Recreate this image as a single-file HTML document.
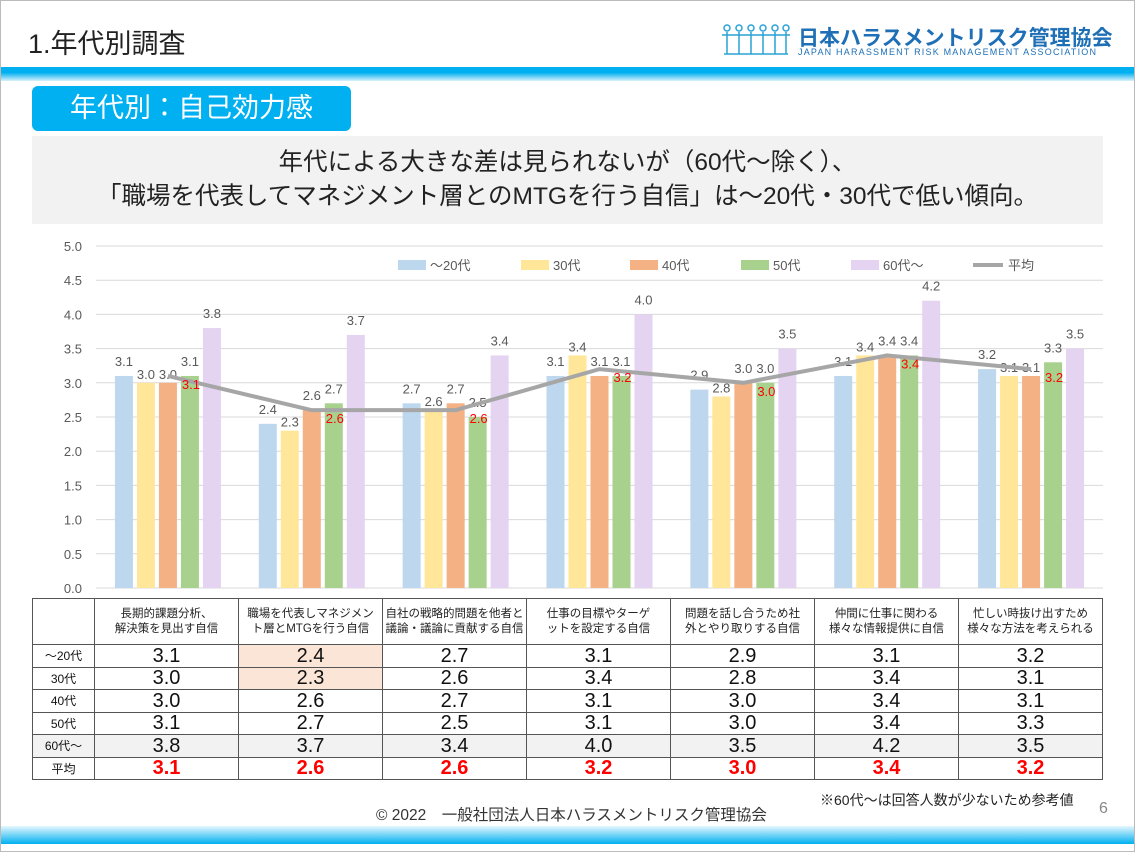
<!DOCTYPE html>
<html><head><meta charset="utf-8">
<style>
body{margin:0;width:1135px;height:852px;background:#fff;overflow:hidden;font-family:"Liberation Sans","Noto Sans CJK JP",sans-serif;position:relative}
.abs{position:absolute}
table{border-collapse:collapse;position:absolute;left:32px;top:598px;table-layout:fixed}
td{border:1px solid #555;text-align:center;padding:0;color:#111}
</style></head><body>
<div class="abs" style="left:0;top:0;width:1133px;height:850px;border:1px solid #bbb"></div>
<div class="abs" style="left:28px;top:22px;font-size:27px;color:#222">1.年代別調査</div>
<div class="abs" style="left:720px;top:22px;width:385px;height:36px">
 <svg width="72" height="34" class="abs" style="left:0;top:0">
  <g fill="none" stroke="#2aa3d6" stroke-width="1.5">
   <circle cx="7" cy="6" r="3"/><circle cx="19" cy="6" r="3"/><circle cx="31" cy="6" r="3"/><circle cx="43" cy="6" r="3"/><circle cx="55" cy="6" r="3"/><circle cx="66" cy="6" r="3"/>
   <path d="M2 13h68M7 10v22M19 10v22M31 10v22M43 10v22M55 10v22M66 10v22M4 32h64"/>
  </g></svg>
 <div class="abs" style="left:78px;top:0;font-size:21px;font-weight:bold;color:#1e6fb5;white-space:nowrap">日本ハラスメントリスク管理協会</div>
 <div class="abs" style="left:78px;top:25px;font-size:9px;color:#1e6fb5;letter-spacing:1.2px;white-space:nowrap">JAPAN HARASSMENT RISK MANAGEMENT ASSOCIATION</div>
</div>
<div class="abs" style="left:1px;top:67px;width:1133px;height:14px;background:linear-gradient(#00b0f0 0%,#00b0f0 40%,#d8f1fb 100%)"></div>
<div class="abs" style="left:32px;top:86px;width:319px;height:45px;background:#00b0f0;border-radius:6px;color:#fff;font-size:27px;line-height:45px;text-align:center">年代別：自己効力感</div>
<div class="abs" style="left:32px;top:136px;width:1071px;height:88px;background:#f2f2f2;color:#222;font-size:24.5px;text-align:center;line-height:34px;padding-top:10px;box-sizing:border-box;white-space:nowrap">年代による大きな差は見られないが（60代～除く）、<br>「職場を代表してマネジメント層とのMTGを行う自信」は～20代・30代で低い傾向。</div>

<svg class="abs" style="left:0;top:0" width="1135" height="600" id="chart"></svg>

<table>
<colgroup><col style="width:62px"><col span="7" style="width:144px"></colgroup>
<tbody id="tb"></tbody></table>

<div class="abs" style="left:820px;top:790px;font-size:14px;color:#222">※60代～は回答人数が少ないため参考値</div>
<div class="abs" style="left:1099px;top:800px;font-size:16px;color:#888">6</div>
<div class="abs" style="left:376px;top:803px;font-size:15.5px;color:#333">© 2022　一般社団法人日本ハラスメントリスク管理協会</div>
<div class="abs" style="left:1px;top:826px;width:1133px;height:18px;background:linear-gradient(#e6f7fd,#00b0f0)"></div>

<script>
const categories=["長期的課題分析、\n解決策を見出す自信","職場を代表しマネジメン\nト層とMTGを行う自信","自社の戦略的問題を他者と\n議論・議論に貢献する自信","仕事の目標やターゲ\nットを設定する自信","問題を話し合うため社\n外とやり取りする自信","仲間に仕事に関わる\n様々な情報提供に自信","忙しい時抜け出すため\n様々な方法を考えられる"];
const seriesNames=["～20代","30代","40代","50代","60代～"];
const s20=[3.1,2.4,2.7,3.1,2.9,3.1,3.2];
const s30=[3.0,2.3,2.6,3.4,2.8,3.4,3.1];
const s40=[3.0,2.6,2.7,3.1,3.0,3.4,3.1];
const s50=[3.1,2.7,2.5,3.1,3.0,3.4,3.3];
const s60=[3.8,3.7,3.4,4.0,3.5,4.2,3.5];
const avg=[3.1,2.6,2.6,3.2,3.0,3.4,3.2];
const yTicks=[0,0.5,1,1.5,2,2.5,3,3.5,4,4.5,5];
const colors=["#bdd7ee","#ffe699","#f4b183","#a9d18e","#e4d3f1"];
const NS="http://www.w3.org/2000/svg";
const svg=document.getElementById('chart');
const x0=96,x1=1103,y0=588,y1=246;
const yS=v=>y0-(v/5)*(y0-y1);
const cw=(x1-x0)/categories.length;
const cx=i=>x0+cw*(i+0.5);
function mk(t,a){const e=document.createElementNS(NS,t);for(const k in a)e.setAttribute(k,a[k]);svg.appendChild(e);return e;}
yTicks.forEach(v=>{
 const l=mk('line',{x1:x0,x2:x1,y1:yS(v),y2:yS(v),stroke:'#d9d9d9','stroke-width':1});
 
 
 const t=mk('text',{x:82,y:yS(v)+5,'text-anchor':'end','font-size':13,fill:'#595959'});
 t.textContent=v.toFixed(1);
 
 
});
const series=[s20,s30,s40,s50,s60];
series.forEach((s,j)=>{
 s.forEach((v,i)=>{
  const bx=cx(i)-53+j*22;
  const r=mk('rect',{x:bx,y:yS(v),width:18,height:y0-yS(v),fill:colors[j]});
  
  
  const t=mk('text',{x:bx+9,y:yS(v)-(j==1||j==2&&v<s20[i]?4:10),'text-anchor':'middle','font-size':13,fill:'#595959'});
  t.textContent=v.toFixed(1);
  
  
 });
});
const pts=avg.map((v,i)=>cx(i)+','+yS(v)).join(' ');
const pl=mk('polyline',{points:pts,fill:'none',stroke:'#a6a6a6','stroke-width':4});


avg.forEach((v,i)=>{
 const t=mk('text',{x:cx(i)+23,y:yS(v)+13,'text-anchor':'middle','font-size':13,fill:'#ff0000'});
 t.textContent=v.toFixed(1);
 
 
});
const legX=[398,521,630,741,851];
seriesNames.forEach((n,j)=>{
 const r=mk('rect',{x:legX[j],y:260,width:28,height:10,fill:colors[j]});
 
 
 const t=mk('text',{x:legX[j]+32,y:270,'font-size':13,fill:'#595959'});
 t.textContent=n;
 
 
});
const ll=mk('line',{x1:973,x2:1003,y1:265,y2:265,stroke:'#a6a6a6','stroke-width':4});


const lt=mk('text',{x:1008,y:270,'font-size':13,fill:'#595959'});
lt.textContent='平均';



const tb=document.getElementById('tb');
let h='<tr style="height:46px"><td></td>';
categories.forEach(c=>{h+='<td style="font-size:11.5px;line-height:15px;color:#222">'+c.replace('\n','<br>')+'</td>';});
h+='</tr>';
const rowLabels=["～20代","30代","40代","50代","60代～","平均"];
[s20,s30,s40,s50,s60,avg].forEach((s,r)=>{
 const isAvg=r==5;
 h+='<tr style="height:22.5px;'+(r==4?'background:#f2f2f2':'')+'"><td style="font-size:12px">'+rowLabels[r]+'</td>';
 s.forEach((v,i)=>{
  const hl=(i==1&&(r==0||r==1))?'background:#fbe5d6;':'';
  h+='<td style="font-size:20px;line-height:20px;'+hl+(isAvg?'color:#ff0000;font-weight:bold;':'')+'">'+v.toFixed(1)+'</td>';
 });
 h+='</tr>';
});
tb.innerHTML=h;
tb.querySelectorAll('tr').forEach((tr,i)=>{
 
 
});
</script>
</body></html>
